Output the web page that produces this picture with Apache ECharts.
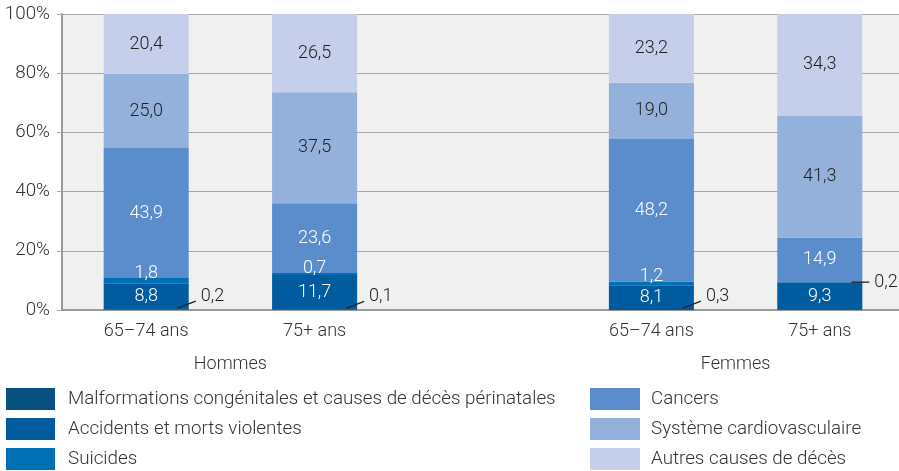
<!DOCTYPE html>
<html>
<head>
<meta charset="utf-8">
<style>
  html, body { margin: 0; padding: 0; background: #ffffff; }
  #chart { width: 899px; height: 471px; }
</style>
<script src="https://cdn.jsdelivr.net/npm/echarts@6/dist/echarts.min.js"></script>
</head>
<body>
<div id="chart"></div>
<script>
// Causes de décès par sexe et groupe d'âge (% du total)
const groups = ['Hommes', 'Femmes'];
const ageGroups = ['65–74 ans', '75+ ans'];
// five slots on the axis: two bars per sex with an empty slot between
const categories = ['H-65', 'H-75', 'gap', 'F-65', 'F-75'];
const categoryLabels = ['65–74 ans', '75+ ans', '', '65–74 ans', '75+ ans'];

const seriesNames = [
  'Malformations congénitales et causes de décès périnatales',
  'Accidents et morts violentes',
  'Suicides',
  'Cancers',
  'Système cardiovasculaire',
  'Autres causes de décès'
];
const malformations = [0.2, 0.1, null, 0.3, 0];
const accidents     = [8.8, 11.7, null, 8.1, 9.3];
const suicides      = [1.8, 0.7, null, 1.2, 0.2];
const cancers       = [43.9, 23.6, null, 48.2, 14.9];
const cardio        = [25.0, 37.5, null, 19.0, 41.3];
const autres        = [20.4, 26.5, null, 23.2, 34.3];
const yTicks = [0, 20, 40, 60, 80, 100];

const seriesValues = [malformations, accidents, suicides, cancers, cardio, autres];
const colors = ['#07507f', '#005b9f', '#0070b5', '#5b8ccb', '#94b1dc', '#c5cfeb'];
const labelColors = [null, '#ffffff', '#ffffff', '#ffffff', '#222222', '#222222'];
const FONT = 'Roboto, "Noto Sans", sans-serif';
const FS = 18;
const FS_BIG = 18.8;
const FW = 300;
const BAR = 0.505;
const SMALL = 0.5; // values below this are labelled outside the bar

const fmt = v => v.toFixed(1).replace('.', ',');

const barSeries = seriesValues.map((vals, i) => ({
  name: seriesNames[i],
  type: 'bar',
  stack: 'total',
  barWidth: (BAR * 100) + '%',
  data: vals,
  itemStyle: { color: colors[i] },
  label: {
    show: i > 0,
    position: i === 2 ? 'top' : 'inside',
    distance: i === 2 ? -4 : 0,
    color: labelColors[i] || '#fff',
    fontSize: FS,
    fontWeight: FW,
    fontFamily: FONT,
    formatter: p => (p.value == null || p.value < SMALL) ? '' : fmt(p.value)
  },
  emphasis: { disabled: true }
}));

// callouts for the thin segments: [slot, segment middle, value, isBottom]
const callouts = [];
categories.forEach((c, ci) => {
  let base = 0;
  seriesValues.forEach((vals, si) => {
    const v = vals[ci];
    if (v == null) return;
    if (v > 0 && v < SMALL) callouts.push([ci, base + v / 2, v, si === 0 ? 1 : 0]);
    base += v;
  });
});

const calloutSeries = {
  type: 'custom',
  name: 'callouts',
  silent: true,
  z: 5,
  data: callouts,
  renderItem: (params, api) => {
    const pt = api.coord([api.value(0), api.value(1)]);
    const band = api.size([1, 0])[0];
    const right = pt[0] + band * BAR / 2;
    const isBottom = api.value(3) === 1;
    const y0 = isBottom ? pt[1] - 1.5 : pt[1];
    const y1 = isBottom ? y0 - 7 : y0;
    const ty = isBottom ? y1 - 5 : y1;
    return {
      type: 'group',
      children: [
        { type: 'line', shape: { x1: right - 11, y1: y0, x2: right + 7, y2: y1 },
          style: { stroke: '#222', lineWidth: 1.3 } },
        { type: 'text', x: right + 12, y: ty,
          style: { text: fmt(api.value(2)), fill: '#222', fontSize: FS, fontWeight: FW,
                   fontFamily: FONT, align: 'left', verticalAlign: 'middle' } }
      ]
    };
  }
};

const chart = echarts.init(document.getElementById('chart'), null, { renderer: 'canvas' });
chart.setOption({
  animation: false,
  textStyle: { fontFamily: FONT },
  grid: {
    left: 62, right: -5, top: 14, bottom: 161,
    outerBoundsMode: 'none',
    show: true, backgroundColor: '#f0f0f0', borderWidth: 0
  },
  legend: [
    {
      data: seriesNames.slice(0, 3),
      orient: 'vertical', left: 6, top: 388, padding: 0,
      itemWidth: 49, itemHeight: 22, itemGap: 8, icon: 'rect',
      selectedMode: false,
      textStyle: { fontSize: FS_BIG, fontWeight: FW, color: '#333', fontFamily: FONT, padding: [5, 0, 0, 8] }
    },
    {
      data: seriesNames.slice(3),
      orient: 'vertical', left: 590, top: 388, padding: 0,
      itemWidth: 50, itemHeight: 22, itemGap: 8, icon: 'rect',
      selectedMode: false,
      textStyle: { fontSize: FS_BIG, fontWeight: FW, color: '#333', fontFamily: FONT, padding: [5, 0, 0, 6] }
    }
  ],
  xAxis: [
    {
      type: 'category',
      data: categories,
      axisLine: { lineStyle: { color: '#9a9a9a', width: 2 } },
      axisTick: { show: false },
      axisLabel: {
        interval: 0, margin: 12, fontSize: FS, fontWeight: FW, color: '#333', fontFamily: FONT,
        formatter: (v, i) => categoryLabels[i]
      }
    },
    {
      // sex labels centred under each pair of bars
      type: 'value', position: 'bottom', min: 0, max: 5, interval: 1,
      axisLine: { show: false }, axisTick: { show: false }, splitLine: { show: false },
      axisLabel: {
        margin: 45, fontSize: FS, fontWeight: FW, color: '#333', fontFamily: FONT,
        showMinLabel: true, showMaxLabel: true,
        formatter: v => v === 1 ? groups[0] : (v === 4 ? groups[1] : '')
      }
    }
  ],
  yAxis: {
    type: 'value', min: 0, max: 100, interval: 20,
    axisLine: { show: true, lineStyle: { color: '#9a9a9a', width: 2 } },
    axisTick: { show: true, length: 5, lineStyle: { color: '#a6a6a6' } },
    splitLine: { show: true, lineStyle: { color: '#a6a6a6', width: 1 } },
    axisLabel: {
      margin: 12, fontSize: FS_BIG, fontWeight: FW, color: '#333', fontFamily: FONT,
      formatter: v => yTicks.includes(v) ? v + '%' : ''
    }
  },
  series: [...barSeries, calloutSeries]
});
</script>
</body>
</html>
